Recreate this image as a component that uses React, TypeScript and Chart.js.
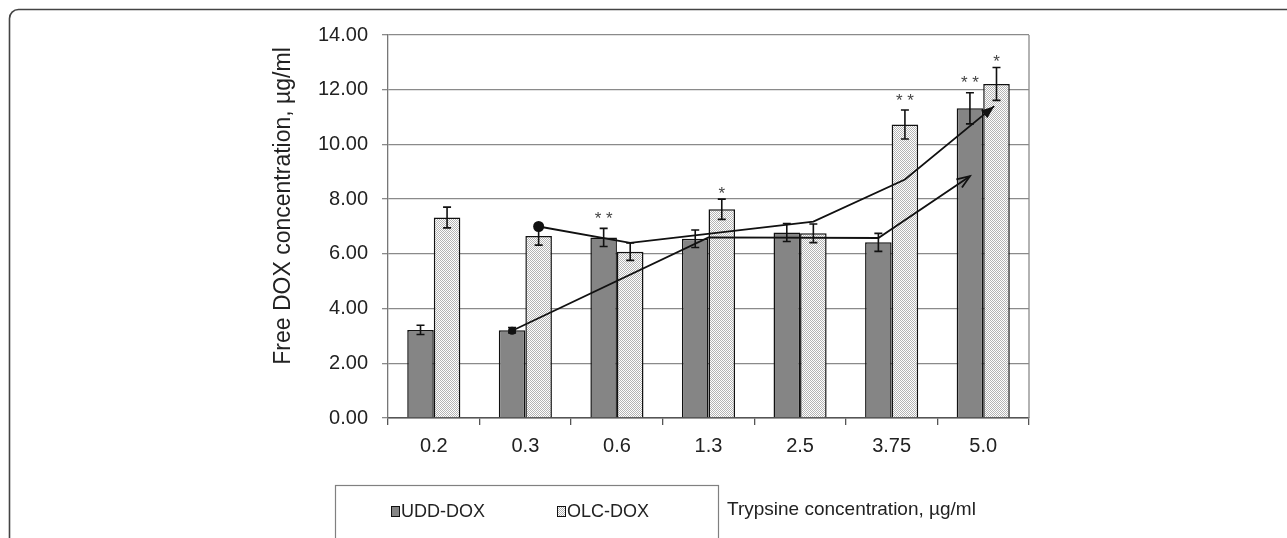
import React, { useEffect, useRef } from 'react';
import { Chart, registerables } from 'chart.js';

Chart.register(...registerables);

const categories = ['0.2', '0.3', '0.6', '1.3', '2.5', '3.75', '5.0'];
const uddValues = [3.22, 3.21, 6.6, 6.55, 6.78, 6.42, 11.32];
const olcValues = [7.33, 6.65, 6.08, 7.63, 6.75, 10.73, 12.21];
const uddErrors = [0.17, 0.1, 0.33, 0.32, 0.33, 0.33, 0.57];
const olcErrors = [0.38, 0.33, 0.32, 0.37, 0.34, 0.53, 0.6];
const uddMarks = ['', '', '**', '', '', '', '**'];
const olcMarks = ['', '', '', '*', '', '**', '*'];
const yTickValues = [0, 2, 4, 6, 8, 10, 12, 14];
// trend arrows: x in category-index units, y in µg/ml
const upperTrendX = [1.145, 2.145, 4.145, 5.145, 6.12];
const upperTrendY = [7.0, 6.4, 7.18, 8.72, 11.4];
const lowerTrendX = [0.855, 3.0, 4.855, 5.855];
const lowerTrendY = [3.19, 6.6, 6.58, 8.84];

const seriesNames = ['UDD-DOX', 'OLC-DOX'];
const yTitle = 'Free DOX concentration, µg/ml';
const xTitle = 'Trypsine concentration, µg/ml';

const FONT = '"Liberation Sans", Arial, sans-serif';

function makePattern(): CanvasPattern | string {
  const c = document.createElement('canvas');
  c.width = 2;
  c.height = 2;
  const g = c.getContext('2d');
  if (!g) return '#d8d8d8';
  g.fillStyle = '#ffffff';
  g.fillRect(0, 0, 2, 2);
  g.fillStyle = '#b4b4b4';
  g.fillRect(0, 0, 1, 1);
  g.fillRect(1, 1, 1, 1);
  const p = g.createPattern(c, 'repeat');
  return p || '#d8d8d8';
}

const decorPlugin = {
  id: 'decor',
  beforeDraw(chart: any) {
    const ctx = chart.ctx;
    ctx.save();
    ctx.strokeStyle = '#444';
    ctx.lineWidth = 1.6;
    ctx.beginPath();
    ctx.moveTo(9.5, 560);
    ctx.lineTo(9.5, 19);
    ctx.arcTo(9.5, 9.5, 19, 9.5, 9);
    ctx.lineTo(1300, 9.5);
    ctx.stroke();
    ctx.restore();
  },
  afterDatasetDraw(chart: any, args: any) {
    const ds = chart.data.datasets[args.index];
    if (ds.type === 'line') return;
    const ctx = chart.ctx;
    const yScale = chart.scales.y;
    const vals = args.index === 0 ? uddValues : olcValues;
    const errs = args.index === 0 ? uddErrors : olcErrors;
    const marks = args.index === 0 ? uddMarks : olcMarks;
    const meta = args.meta;
    ctx.save();
    ctx.strokeStyle = '#111';
    ctx.lineWidth = 1.6;
    meta.data.forEach((el: any, i: number) => {
      const x = el.x;
      const yt = yScale.getPixelForValue(vals[i] + errs[i]);
      const yb = yScale.getPixelForValue(vals[i] - errs[i]);
      ctx.beginPath();
      ctx.moveTo(x, yt);
      ctx.lineTo(x, yb);
      ctx.moveTo(x - 4, yt);
      ctx.lineTo(x + 4, yt);
      ctx.moveTo(x - 4, yb);
      ctx.lineTo(x + 4, yb);
      ctx.stroke();
      if (marks[i]) {
        ctx.fillStyle = '#444';
        ctx.font = '17px ' + FONT;
        ctx.textAlign = 'center';
        ctx.textBaseline = 'middle';
        const txt = marks[i].split('').join(' ');
        ctx.fillText(txt, x, yt - (marks[i].length === 2 ? 9 : 5));
      }
    });
    ctx.restore();
  },
  afterDatasetsDraw(chart: any) {
    const ctx = chart.ctx;
    const area = chart.chartArea;
    ctx.save();
    ctx.strokeStyle = '#8a8a8a';
    ctx.lineWidth = 1.3;
    ctx.beginPath();
    ctx.moveTo(area.right, area.top);
    ctx.lineTo(area.right, area.bottom);
    ctx.stroke();
    chart.data.datasets.forEach((ds: any, di: number) => {
      if (ds.type !== 'line') return;
      const pts = chart.getDatasetMeta(di).data;
      const a = pts[pts.length - 2];
      const b = pts[pts.length - 1];
      const ang = Math.atan2(b.y - a.y, b.x - a.x);
      const len = 13;
      const half = 5;
      const bx = b.x - len * Math.cos(ang);
      const by = b.y - len * Math.sin(ang);
      const px = -Math.sin(ang) * half;
      const py = Math.cos(ang) * half;
      ctx.strokeStyle = '#111';
      ctx.fillStyle = '#111';
      ctx.lineWidth = 1.8;
      if (ds.arrowFilled) {
        ctx.beginPath();
        ctx.moveTo(b.x, b.y);
        ctx.lineTo(bx + px, by + py);
        ctx.lineTo(bx - px, by - py);
        ctx.closePath();
        ctx.fill();
      } else {
        ctx.beginPath();
        ctx.moveTo(bx + px, by + py);
        ctx.lineTo(b.x, b.y);
        ctx.lineTo(bx - px, by - py);
        ctx.stroke();
      }
    });
    ctx.restore();
  },
  afterDraw(chart: any) {
    const ctx = chart.ctx;
    ctx.save();
    ctx.fillStyle = '#222';
    ctx.font = '23px ' + FONT;
    ctx.textAlign = 'center';
    ctx.textBaseline = 'middle';
    ctx.translate(284, 206);
    ctx.rotate(-Math.PI / 2);
    ctx.fillText(yTitle, 0, 0);
    ctx.restore();

    ctx.save();
    ctx.strokeStyle = '#808080';
    ctx.lineWidth = 1.2;
    ctx.strokeRect(335.5, 485.5, 383, 70);
    ctx.font = '18px ' + FONT;
    ctx.textBaseline = 'middle';
    ctx.textAlign = 'left';
    const ds0 = chart.data.datasets[0];
    const ds1 = chart.data.datasets[1];
    const items = [
      { x: 391, fill: ds0.backgroundColor, label: seriesNames[0] },
      { x: 557, fill: ds1.backgroundColor, label: seriesNames[1] },
    ];
    items.forEach((it) => {
      ctx.fillStyle = it.fill;
      ctx.fillRect(it.x, 506, 8, 10);
      ctx.strokeStyle = '#111';
      ctx.lineWidth = 1;
      ctx.strokeRect(it.x + 0.5, 506.5, 8, 10);
      ctx.fillStyle = '#222';
      ctx.fillText(it.label, it.x + 10, 512);
    });
    ctx.font = '19px ' + FONT;
    ctx.fillText(xTitle, 727, 510);
    ctx.restore();
  },
};

export default function App() {
  const ref = useRef<HTMLCanvasElement | null>(null);

  useEffect(() => {
    if (!ref.current) return;
    const pattern = makePattern();
    const chart = new Chart(ref.current, {
      type: 'bar',
      data: {
        labels: categories,
        datasets: [
          {
            type: 'bar',
            label: seriesNames[0],
            data: uddValues,
            backgroundColor: '#858585',
            borderColor: '#111',
            borderWidth: 1.5,
            categoryPercentage: 0.58,
            barPercentage: 1.0,
            order: 2,
          },
          {
            type: 'bar',
            label: seriesNames[1],
            data: olcValues,
            backgroundColor: pattern as any,
            borderColor: '#111',
            borderWidth: 1.5,
            categoryPercentage: 0.58,
            barPercentage: 1.0,
            order: 2,
          },
          {
            type: 'line',
            label: 'trend-upper',
            parsing: false,
            data: upperTrendX.map((x, i) => ({ x, y: upperTrendY[i] })),
            borderColor: '#111',
            borderWidth: 1.8,
            pointRadius: upperTrendX.map((_, i) => (i === 0 ? 5.5 : 0)),
            pointBackgroundColor: '#111',
            pointBorderWidth: 0,
            tension: 0,
            fill: false,
            order: 1,
            arrowFilled: true,
          } as any,
          {
            type: 'line',
            label: 'trend-lower',
            parsing: false,
            data: lowerTrendX.map((x, i) => ({ x, y: lowerTrendY[i] })),
            borderColor: '#111',
            borderWidth: 1.8,
            pointRadius: lowerTrendX.map((_, i) => (i === 0 ? 4 : 0)),
            pointBackgroundColor: '#111',
            pointBorderWidth: 0,
            tension: 0,
            fill: false,
            order: 1,
            arrowFilled: false,
          } as any,
        ],
      },
      options: {
        animation: false,
        responsive: false,
        layout: { padding: { left: 300, right: 258, top: 35, bottom: 80 } },
        plugins: {
          legend: { display: false },
          tooltip: { enabled: false },
          title: { display: false },
        },
        scales: {
          x: {
            type: 'category',
            offset: true,
            grid: {
              offset: true,
              drawOnChartArea: false,
              drawTicks: true,
              tickLength: 7,
              color: '#555',
              lineWidth: 1.3,
            },
            border: { display: true, color: '#555', width: 1.5 },
            ticks: {
              color: '#222',
              font: { family: FONT, size: 20 },
              padding: 9,
              maxRotation: 0,
            },
            afterFit: (s: any) => {
              s.height = 40;
            },
          },
          y: {
            min: 0,
            max: 14,
            stacked: false,
            afterBuildTicks: (s: any) => {
              s.ticks = yTickValues.map((v) => ({ value: v }));
            },
            grid: {
              color: '#8a8a8a',
              lineWidth: 1.3,
              tickLength: 6,
              drawTicks: true,
            },
            border: { display: true, color: '#777', width: 1.3 },
            ticks: {
              color: '#222',
              font: { family: FONT, size: 20 },
              padding: 14,
              callback: (v: any) => Number(v).toFixed(2),
            },
            afterFit: (s: any) => {
              s.width = 88;
            },
          },
        },
      },
      plugins: [decorPlugin],
    });
    return () => chart.destroy();
  }, []);

  return (
    <div style={{ position: 'absolute', left: 0, top: 0, width: 1287, height: 538, background: '#fff' }}>
      <canvas ref={ref} width={1287} height={538} style={{ display: 'block' }} />
    </div>
  );
}
